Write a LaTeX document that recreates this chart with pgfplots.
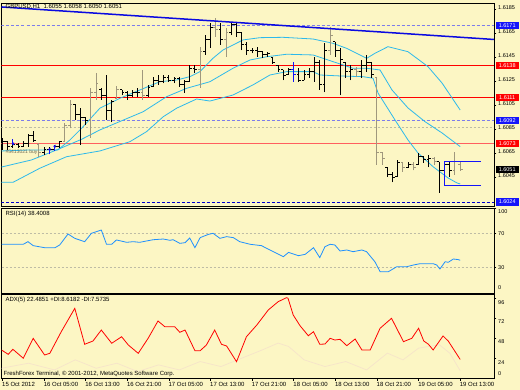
\documentclass[border=0pt]{standalone}
\usepackage{pgfplots}
\pgfplotsset{compat=1.18}
\usepackage{pgfplotstable}
\usepackage{fontspec}
\setmainfont{Liberation Sans}
\definecolor{bg}{RGB}{252,246,196}
\definecolor{band}{RGB}{45,185,235}
\definecolor{trend}{RGB}{10,10,225}
\definecolor{lav}{RGB}{125,125,235}
\definecolor{dkblue}{RGB}{0,0,205}
\definecolor{barg}{RGB}{160,152,125}
\definecolor{rsi}{RGB}{30,144,255}
\definecolor{salmon}{RGB}{255,95,95}
\definecolor{hred}{RGB}{255,0,0}
\definecolor{boxblue}{RGB}{20,20,250}
\definecolor{lvl}{RGB}{190,188,165}
\definecolor{di}{RGB}{246,228,202}

\pgfplotstableread{
x o h l c
0 1.60707 1.60774 1.60674 1.60741
1 1.60741 1.60749 1.60674 1.60699
2 1.60699 1.60732 1.60691 1.60716
3 1.60716 1.60732 1.60691 1.60707
4 1.60707 1.60749 1.60699 1.60732
5 1.60732 1.60807 1.60699 1.60791
6 1.60791 1.60832 1.60741 1.60757
8 1.60657 1.60699 1.60632 1.60682
9 1.60682 1.60699 1.60657 1.60674
10 1.60674 1.60716 1.60674 1.60699
11 1.60699 1.60749 1.60691 1.60741
14 1.61057 1.61057 1.60924 1.60966
15 1.60966 1.61024 1.60716 1.60941
16 1.60941 1.60949 1.60882 1.60916
19 1.61174 1.61191 1.61091 1.61132
20 1.61132 1.61299 1.60924 1.61007
21 1.61007 1.61091 1.60907 1.61074
23 1.61174 1.61174 1.61132 1.61149
24 1.61149 1.61166 1.61091 1.61132
25 1.61132 1.61174 1.61116 1.61149
26 1.61149 1.61191 1.61116 1.61157
28 1.61132 1.61216 1.61116 1.61191
29 1.61199 1.61282 1.61199 1.61257
30 1.61257 1.61299 1.61216 1.61241
31 1.61241 1.61299 1.61232 1.61274
32 1.61274 1.61299 1.61241 1.61257
33 1.61257 1.61282 1.61232 1.61266
34 1.61266 1.61282 1.61199 1.61216
35 1.61216 1.61257 1.61149 1.61241
36 1.61241 1.61382 1.61241 1.61357
37 1.61357 1.61382 1.61316 1.61341
39 1.61491 1.61632 1.61466 1.61591
40 1.61591 1.61732 1.61524 1.61691
42 1.61674 1.61732 1.61549 1.61591
44 1.61657 1.61741 1.61632 1.61716
45 1.61716 1.61732 1.61616 1.61649
46 1.61649 1.61657 1.61507 1.61549
47 1.61549 1.61574 1.61466 1.61507
48 1.61507 1.61524 1.61482 1.61499
49 1.61499 1.61532 1.61449 1.61491
50 1.61491 1.61491 1.61441 1.61466
51 1.61466 1.61491 1.61449 1.61474
52 1.61441 1.61441 1.61391 1.61407
53 1.61382 1.61382 1.61324 1.61341
54 1.61341 1.61341 1.61257 1.61291
55 1.61307 1.61357 1.61307 1.61341
57 1.61299 1.61357 1.61241 1.61257
58 1.61257 1.61341 1.61257 1.61307
59 1.61307 1.61357 1.61274 1.61324
60 1.61324 1.61449 1.61241 1.61407
61 1.61407 1.61424 1.61174 1.61216
62 1.61216 1.61566 1.61157 1.61507
64 1.61574 1.61574 1.61449 1.61507
65 1.61507 1.61524 1.61132 1.61424
66 1.61399 1.61399 1.61274 1.61324
67 1.61324 1.61382 1.61257 1.61341
69 1.61324 1.61424 1.61274 1.61382
70 1.61382 1.61466 1.61324 1.61407
71 1.61399 1.61399 1.61274 1.61299
74 1.60532 1.60532 1.60449 1.60466
75 1.60466 1.60491 1.60407 1.60441
76 1.60457 1.60591 1.60457 1.60566
78 1.60524 1.60574 1.60524 1.60549
80 1.60549 1.60649 1.60549 1.60616
81 1.60616 1.60616 1.60566 1.60591
82 1.60591 1.60632 1.60532 1.60607
84 1.60574 1.60574 1.60316 1.60507
85 1.60507 1.60574 1.60382 1.60549
86 1.60549 1.60574 1.60449 1.60507
}\blackbars

\pgfplotstableread{
x o h l c
7 1.60716 1.60732 1.60616 1.60657
12 1.60741 1.60899 1.60741 1.60874
13 1.60874 1.61091 1.60857 1.61057
17 1.60916 1.61191 1.60774 1.61149
18 1.61149 1.61316 1.61091 1.61224
22 1.61107 1.61207 1.61107 1.61174
27 1.61157 1.61341 1.61091 1.61132
38 1.61341 1.61532 1.61191 1.61491
41 1.61691 1.61774 1.61616 1.61674
43 1.61591 1.61691 1.61449 1.61657
63 1.61507 1.61699 1.61466 1.61632
68 1.61341 1.61366 1.61282 1.61324
72 1.61274 1.61274 1.60549 1.60649
73 1.60649 1.60657 1.60549 1.60607
77 1.60566 1.60574 1.60491 1.60524
79 1.60549 1.60574 1.60507 1.60532
83 1.60607 1.60616 1.60549 1.60574
87 1.60507 1.60657 1.60466 1.60574
88 1.6055 1.6058 1.6050 1.6051
}\graybars

\pgfplotstableread{
x o h l c
56 1.61341 1.61407 1.61241 1.61299
}\bluebars

\tikzset{pbox/.style={anchor=west, inner sep=0pt, minimum height=7.5pt, minimum width=23pt,
  text=white, font=\fontsize{5.5}{6}\selectfont, xshift=1.5pt}}
\pgfplotsset{nomark/.style={only marks, mark=*, mark options={draw=none, fill=none}, mark size=0pt}}
\newcommand{\ohlc}[2]{%
  \addplot[nomark, error bars/.cd, y dir=plus, y explicit, error mark=none,
    error bar style={#1, line width=1pt}] table[x=x, y=l, y error expr=\thisrow{h}-\thisrow{l}] {#2};
  \addplot[nomark, error bars/.cd, x dir=minus, x fixed=0.45, error mark=none,
    error bar style={#1, line width=1pt}] table[x=x, y=o] {#2};
  \addplot[nomark, error bars/.cd, x dir=plus, x fixed=0.45, error mark=none,
    error bar style={#1, line width=1pt}] table[x=x, y=c] {#2};
}

\begin{document}
\begin{tikzpicture}[x=1pt,y=1pt]
\useasboundingbox (0,0) rectangle (520,390);
\fill[bg] (0,0) rectangle (520,390);
\pgfplotsset{
  every axis/.append style={scale only axis, anchor=south west, xmin=-0.19, xmax=94.5,
    width=492.5pt, axis line style={black, line width=0.8pt}, clip mode=individual,
    tick style={black, line width=0.6pt}, major tick length=2.5pt, tick align=outside,
    ytick pos=right, yticklabel pos=right, scaled y ticks=false,
    yticklabel style={font=\fontsize{5.5}{6}\selectfont, anchor=west, inner sep=0pt, xshift=1.5pt},
    /pgf/number format/assume math mode=true}
}
% ---------------- main price panel ----------------
\begin{axis}[at={(1.5pt,183.5pt)}, height=203pt, ymin=1.602032, ymax=1.618948,
  xmajorticks=false,
  ytick={1.6045,1.6065,1.6085,1.6105,1.6125,1.6145,1.6165,1.6185},
  yticklabels={1.6045,1.6065,1.6085,1.6105,1.6125,1.6145,1.6165,1.6185},
  yticklabel style={yshift=1.2pt}]
\addplot[lvl, dash pattern=on 2pt off 2pt, line width=0.6pt] coordinates {(-0.19,1.60863) (94.5,1.60863)};
\addplot[lav, dash pattern=on 3pt off 2pt, line width=0.8pt] coordinates {(-0.19,1.6171) (94.5,1.6171)};
\addplot[lav, dash pattern=on 3pt off 2pt, line width=0.8pt] coordinates {(-0.19,1.6092) (94.5,1.6092)};
\addplot[dkblue, dash pattern=on 3pt off 2pt, line width=1pt] coordinates {(-0.19,1.6024) (94.5,1.6024)};
\addplot[hred, line width=1.3pt] coordinates {(-0.19,1.6138) (94.5,1.6138)};
\addplot[hred, line width=1.3pt] coordinates {(-0.19,1.6111) (94.5,1.6111)};
\addplot[salmon, line width=1.2pt] coordinates {(-0.19,1.6073) (94.5,1.6073)};
% bands
\addplot[band, line width=0.8pt] coordinates {(-0.19,1.60666) (5.25,1.60674) (10.64,1.60674) (12.95,1.60757) (15.26,1.60857) (18.72,1.61022) (22.57,1.61105) (26.41,1.61174) (30.26,1.61243) (33.47,1.61257) (36.03,1.61285) (37.96,1.61327) (40.46,1.61438) (42.38,1.61507) (44.31,1.61549) (46.23,1.61591) (49.5,1.6161) (53.93,1.61613) (59.7,1.61599) (63.55,1.61563) (66.18,1.61521) (70.03,1.61438) (71.62,1.6148) (74.12,1.61535) (77.97,1.61493) (81.82,1.61368) (84.51,1.61232) (88,1.61007)};
\addplot[band, line width=0.8pt] coordinates {(-0.19,1.60532) (5.58,1.60591) (10.39,1.60674) (15.2,1.60763) (18.72,1.60841) (27.05,1.60993) (31.55,1.61118) (35.4,1.61188) (39.88,1.61243) (44.31,1.61355) (47.58,1.61424) (50.79,1.61451) (54.64,1.61472) (59.7,1.61466) (63.55,1.6141) (67.39,1.61355) (70.03,1.61355) (72.59,1.61341) (74.89,1.61174) (77.97,1.61024) (81.24,1.6091) (84.51,1.60816) (88,1.60702)};
\addplot[band, line width=0.8pt] coordinates {(-0.19,1.60405) (2.04,1.60405) (7.18,1.60522) (12.31,1.60618) (18.72,1.60666) (24.49,1.60743) (27.7,1.60827) (30.9,1.60951) (33.47,1.61022) (37.32,1.61099) (39.88,1.61082) (44.31,1.61132) (48.15,1.61216) (51.42,1.61299) (54.64,1.61327) (59.7,1.61327) (61.04,1.61299) (64.89,1.61291) (69.32,1.61285) (71.24,1.61272) (72.2,1.61149) (75.47,1.60924) (77.97,1.60757) (79.89,1.60649) (82.78,1.60535) (85.67,1.60441) (87.4,1.60399) (88,1.60391)};
% bars
\ohlc{black}{\blackbars}
\ohlc{barg}{\graybars}
\ohlc{boxblue}{\bluebars}
% trade arrows
\addplot[nomark, error bars/.cd, y dir=minus, y fixed=0.0004, error mark=triangle*,
  error mark options={boxblue, fill=boxblue, mark size=1.3pt, rotate=180}, error bar style={boxblue, line width=0.8pt}]
  coordinates {(2,1.60765)};
\addplot[nomark, error bars/.cd, y dir=plus, y fixed=0.0004, error mark=triangle*,
  error mark options={boxblue, fill=boxblue, mark size=1.3pt}, error bar style={boxblue, line width=0.8pt}]
  coordinates {(9,1.60640) (10,1.60666)};
% drawn channel
\addplot[boxblue, line width=1pt] coordinates {(92.0,1.60577) (84.9,1.60577) (84.9,1.60382) (92.0,1.60382)};
% trend line
\addplot[trend, line width=1.5pt] coordinates {(-0.19,1.61866) (94.5,1.61595)};
% texts
\node[anchor=west, inner sep=0pt, font=\fontsize{6}{7}\selectfont] at (rel axis cs:0.008,0.983) {GBPUSD,H1 \ 1.6055 1.6058 1.6050 1.6051};
\node[anchor=west, inner sep=0pt, text={rgb,255:red,110;green,105;blue,85}, font=\fontsize{5}{6}\selectfont] at (rel axis cs:0.008,0.266) {\#5413021 buy};
% price boxes
\node[pbox, fill=boxblue] at (axis cs:94.5,1.6171) {1.6171};
\node[pbox, fill=hred] at (axis cs:94.5,1.6138) {1.6138};
\node[pbox, fill=hred] at (axis cs:94.5,1.6111) {1.6111};
\node[pbox, fill=boxblue] at (axis cs:94.5,1.6092) {1.6092};
\node[pbox, fill=hred] at (axis cs:94.5,1.6073) {1.6073};
\node[pbox, fill=black] at (axis cs:94.5,1.6051) {1.6051};
\node[pbox, fill=boxblue] at (axis cs:94.5,1.6024) {1.6024};
\end{axis}
% ---------------- RSI panel ----------------
\begin{axis}[at={(1.5pt,97pt)}, height=85pt, ymin=0, ymax=100, xmajorticks=false,
  ytick={30,70},
  extra y ticks={100}, extra y tick style={yticklabel style={yshift=-4pt}}]
\addplot[lvl, dash pattern=on 2pt off 2pt, line width=0.6pt] coordinates {(-0.19,70) (94.5,70)};
\addplot[lvl, dash pattern=on 2pt off 2pt, line width=0.6pt] coordinates {(-0.19,30) (94.5,30)};
\addplot[rsi, line width=0.8pt] coordinates {(-0.2,57.3) (4.0,57.3) (4.9,60.4) (5.9,55.7) (8.1,53.3) (10.1,53.3) (11.0,56.5) (12.6,69.4) (13.9,64.3) (15.8,60.4) (17.1,70.2) (19.0,74.1) (20.0,57.3) (21.0,57.3) (21.9,62.4) (23.9,59.6) (25.1,60.4) (26.4,59.6) (27.7,61.2) (29.0,62.7) (30.9,63.5) (32.2,62.0) (32.8,62.7) (34.1,58.4) (35.1,59.2) (36.0,64.7) (37.0,53.3) (38.0,65.1) (39.6,69.0) (40.5,70.2) (41.8,64.3) (43.1,66.3) (44.4,65.1) (45.6,60.4) (47.6,57.3) (49.8,55.7) (50.8,52.5) (52.1,48.6) (54.0,42.7) (55.0,47.8) (56.9,43.9) (58.2,45.5) (59.8,53.3) (61.0,41.6) (62.0,54.5) (63.0,57.3) (63.9,56.5) (64.9,49.4) (66.2,50.6) (67.4,48.6) (69.1,50.6) (70.0,48.6) (71.6,36.8) (72.6,25.1) (74.2,25.1) (75.8,30.9) (77.7,30.9) (79.0,32.9) (80.3,34.5) (82.8,34.5) (83.5,32.9) (84.1,28.2) (85.1,36.8) (85.7,36.1) (86.7,40.0) (87.7,39.2) (88,38.4)};
\node[anchor=west, inner sep=0pt, font=\fontsize{6}{7}\selectfont] at (rel axis cs:0.008,0.929) {RSI(14) 38.4008};
\node[anchor=west, inner sep=0pt, font=\fontsize{5.5}{6}\selectfont, xshift=4pt] at (rel axis cs:1,0.06) {0};
\end{axis}
% ---------------- ADX panel ----------------
\begin{axis}[at={(1.5pt,11.7pt)}, height=83.8pt, ymin=0, ymax=100,
  ytick={24,48,72}, yticklabel style={yshift=-4pt},
  extra y ticks={96}, extra y tick style={yticklabel style={yshift=-1pt}},
  xtick={0,8,...,88},
  xticklabels={15 Oct 2012,16 Oct 05:00,16 Oct 13:00,16 Oct 21:00,17 Oct 05:00,17 Oct 13:00,17 Oct 21:00,18 Oct 05:00,18 Oct 13:00,18 Oct 21:00,19 Oct 05:00,19 Oct 13:00},
  xtick pos=bottom,
  xticklabel style={anchor=north west, font=\fontsize{6}{7}\selectfont, inner sep=0pt, yshift=-1.5pt, xshift=-0.5pt}]
\addplot[di, line width=0.7pt] coordinates {(-0.2,12) (5,18) (10,10) (14,22) (18,12) (22,18) (26,8) (30,16) (34,10) (38,20) (42,14) (46,24) (50,34) (53,42) (55,38) (58,22) (62,14) (66,20) (70,10) (74,30) (77,22) (80,36) (84,40) (86,30) (88,9)};
\addplot[hred, line width=0.8pt] coordinates {(-0.2,33.8) (1.1,28.6) (2.0,34.6) (4.0,23.9) (5.9,47.7) (8.1,27.8) (9.1,29.8) (11.3,55.6) (13.9,83.5) (15.8,40.6) (17.4,44.5) (19.0,57.6) (21.0,41.8) (22.9,49.6) (24.2,39.7) (26.1,29.8) (28.0,47.7) (29.9,68.4) (31.2,61.6) (33.1,61.6) (34.1,54.9) (35.1,57.6) (37.0,32.9) (38.0,32.9) (39.2,39.7) (40.8,57.6) (42.1,40.6) (43.1,38.5) (45.0,19.8) (46.9,49.6) (48.9,63.6) (51.1,81.5) (53.0,91.4) (54.6,96.2) (54.9,95.5) (55.9,75.5) (57.2,62.8) (58.8,50.8) (59.8,55.6) (61.0,40.6) (62.0,40.9) (63.0,47.7) (63.9,45.7) (64.9,46.5) (66.2,38.9) (67.8,46.9) (69.1,33.8) (70.7,33.8) (72.6,59.7) (74.8,71.6) (77.1,43.7) (78.7,47.7) (80.0,59.7) (81.0,44.5) (81.9,40.6) (82.8,33.8) (84.7,50.5) (85.7,44.5) (88.0,22.5)};
\node[anchor=west, inner sep=0pt, font=\fontsize{6}{7}\selectfont] at (rel axis cs:0.008,0.934) {ADX(5) 22.4851 +DI:8.6182 -DI:7.5735};
\node[anchor=west, inner sep=0pt, font=\fontsize{6}{7}\selectfont] at (rel axis cs:0.004,0.051) {FreshForex Terminal, © 2001-2012, MetaQuotes Software Corp.};
\node[anchor=west, inner sep=0pt, font=\fontsize{5.5}{6}\selectfont, xshift=4pt] at (rel axis cs:1,0.05) {0};
\end{axis}
\end{tikzpicture}
\end{document}
